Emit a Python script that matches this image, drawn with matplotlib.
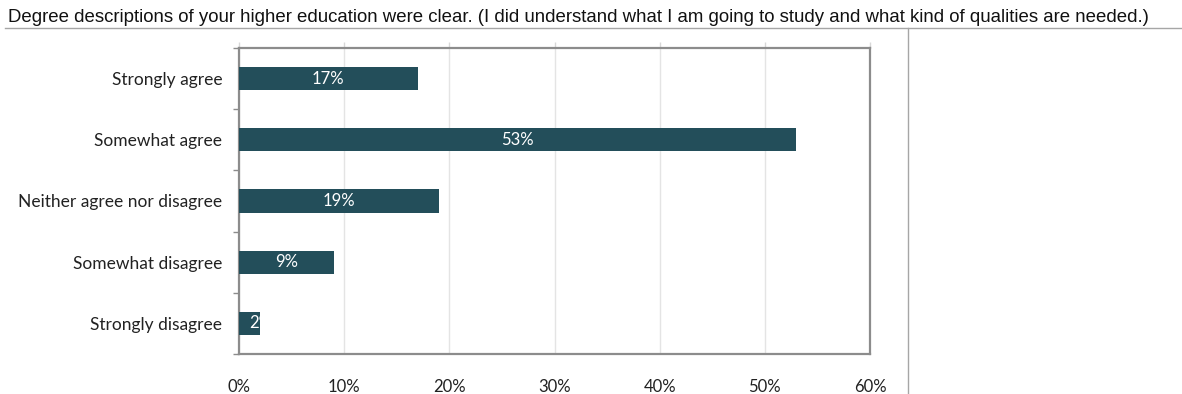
import matplotlib.pyplot as plt
from matplotlib.lines import Line2D

# Survey answers, top to bottom
answers = ["Strongly agree", "Somewhat agree", "Neither agree nor disagree",
           "Somewhat disagree", "Strongly disagree"]
shares = [17, 53, 19, 9, 2]
xticks = [0, 10, 20, 30, 40, 50, 60]

title = ("Degree descriptions of your higher education were clear. "
         "(I did understand what I am going to study and what kind of qualities are needed.)")

bar_color = "#234e5a"
frame_color = "#8c8c8c"

fig = plt.figure(figsize=(11.82, 3.94), dpi=100)
ax = fig.add_axes([239 / 1182, 40 / 394, 631 / 1182, 306 / 394])

ypos = list(range(len(answers)))
bars = ax.barh(ypos, shares, height=0.38, color=bar_color, zorder=3)
ax.set_ylim(len(answers) - 0.5, -0.5)
ax.set_xlim(0, 60)

# value labels inside the bars, clipped to the bar like the spreadsheet does
for rect, v in zip(bars, shares):
    if v >= 5:
        x, ha = v / 2, "center"
    else:
        x, ha = 1.0, "left"
    t = ax.text(x, rect.get_y() + rect.get_height() / 2, f"{v}%", ha=ha, va="center",
                color="white", fontsize=12, family="Lato", zorder=4)
    t.set_clip_path(rect)

ax.set_xticks(xticks)
ax.set_xticklabels([f"{t}%" for t in xticks], family="Lato", fontsize=12, color="#222222")
ax.set_yticks(ypos)
ax.set_yticklabels(answers, family="Lato", fontsize=12.5, color="#222222")
ax.tick_params(axis="x", top=True, bottom=False, labeltop=False, labelbottom=True,
               length=4, color="#d8d8d8", width=1, pad=14)
ax.tick_params(axis="y", which="major", length=0, pad=12)
ax.set_yticks([i + 0.5 for i in range(-1, len(answers))], minor=True)
ax.tick_params(axis="y", which="minor", length=4, color=frame_color, width=1)

ax.grid(axis="x", color="#e4e4e4", linewidth=1, zorder=0)
for s in ax.spines.values():
    s.set_color(frame_color)
    s.set_linewidth(1.6)

fig.text(8 / 1182, 1 - 17 / 394, title, family="Liberation Sans", fontsize=13.4,
         va="center", ha="left", color="#111111")
fig.add_artist(Line2D([5 / 1182, 1], [1 - 28 / 394] * 2, color="#a6a6a6", linewidth=1))
fig.add_artist(Line2D([908 / 1182] * 2, [0, 1 - 28 / 394], color="#a6a6a6", linewidth=1))

fig.savefig("out.png", dpi=100, facecolor="white")
